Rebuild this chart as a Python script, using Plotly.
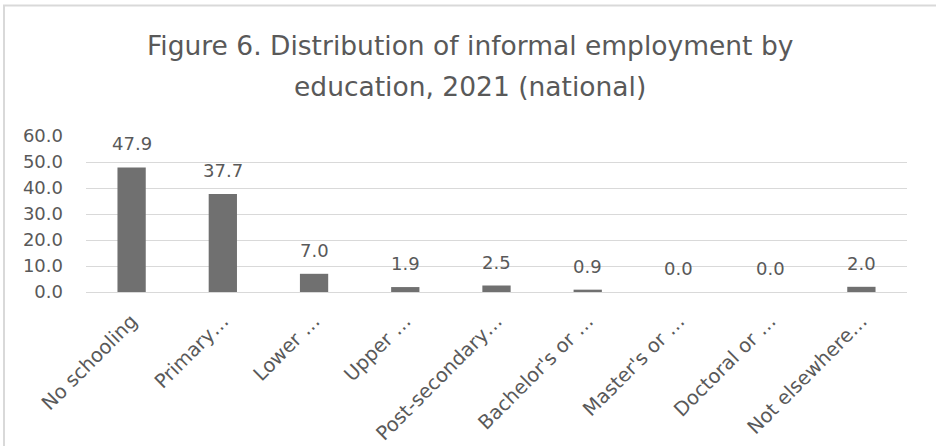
import plotly.graph_objects as go

# Education levels (truncated as displayed on the axis) and shares of informal employment (%)
categories = [
    "No schooling",
    "Primary…",
    "Lower …",
    "Upper …",
    "Post-secondary…",
    "Bachelor's or …",
    "Master's or …",
    "Doctoral or …",
    "Not elsewhere…",
]
shares = [47.9, 37.7, 7.0, 1.9, 2.5, 0.9, 0.0, 0.0, 2.0]

y_ticks = [0, 10, 20, 30, 40, 50, 60]

title_lines = [
    "Figure 6. Distribution of informal employment by",
    "education, 2021 (national)",
]

text_color = "#595959"
bar_color = "#707070"
grid_color = "#d9d9d9"
font_family = "DejaVu Sans"

# Plot-area geometry in pixels (used to place paper-referenced items)
W, H = 936, 446
M_L, M_R, M_T, M_B = 86, 29, 136, 154
PW, PH = W - M_L - M_R, H - M_T - M_B


def py(px_y):
    """Convert a pixel row (from the top) to paper y."""
    return (H - M_B - px_y) / PH


def px(px_x):
    """Convert a pixel column (from the left) to paper x."""
    return (px_x - M_L) / PW


fig = go.Figure(
    go.Bar(
        x=categories,
        y=shares,
        marker=dict(color=bar_color, line=dict(width=0)),
        hovertemplate="%{x}: %{y:.1f}<extra></extra>",
    )
)

# Value labels above each bar
for cat, val in zip(categories, shares):
    fig.add_annotation(
        x=cat, y=val, xref="x", yref="y",
        text=f"{val:.1f}", showarrow=False,
        yanchor="bottom", yshift=11,
        font=dict(family=font_family, size=18, color=text_color),
    )

# Two-line chart title, centred on the whole figure
for line, y_px in zip(title_lines, [45, 86]):
    fig.add_annotation(
        x=px(W / 2 + 2), y=py(y_px), xref="paper", yref="paper",
        text=line, showarrow=False,
        xanchor="center", yanchor="middle",
        font=dict(family=font_family, size=26.5, color=text_color),
    )

fig.update_layout(
    width=W,
    height=H,
    paper_bgcolor="white",
    plot_bgcolor="white",
    bargap=0.69,
    margin=dict(l=M_L, r=M_R, t=M_T, b=M_B),
    showlegend=False,
    font=dict(family=font_family, color=text_color),
)

fig.update_yaxes(
    range=[0, 60],
    tickvals=y_ticks,
    tickformat=".1f",
    showgrid=True,
    gridcolor=grid_color,
    gridwidth=1,
    zeroline=False,
    showline=False,
    ticks="",
    tickfont=dict(family=font_family, size=18, color=text_color),
    ticklabelstandoff=22,
    automargin=False,
)

fig.update_xaxes(
    tickangle=-45,
    showline=True,
    linecolor=grid_color,
    linewidth=1,
    ticks="",
    tickfont=dict(family=font_family, size=19.5, color=text_color),
    ticklabelstandoff=9,
    automargin=False,
)

# Light frame along the top and left edges of the chart area
fig.add_shape(type="line", xref="paper", yref="paper",
              x0=px(3), x1=px(W + 10), y0=py(5.5), y1=py(5.5),
              line=dict(color=grid_color, width=2), layer="above")
fig.add_shape(type="line", xref="paper", yref="paper",
              x0=px(4), x1=px(4), y0=py(H + 10), y1=py(5),
              line=dict(color=grid_color, width=2), layer="above")

fig.write_html("out.html")
